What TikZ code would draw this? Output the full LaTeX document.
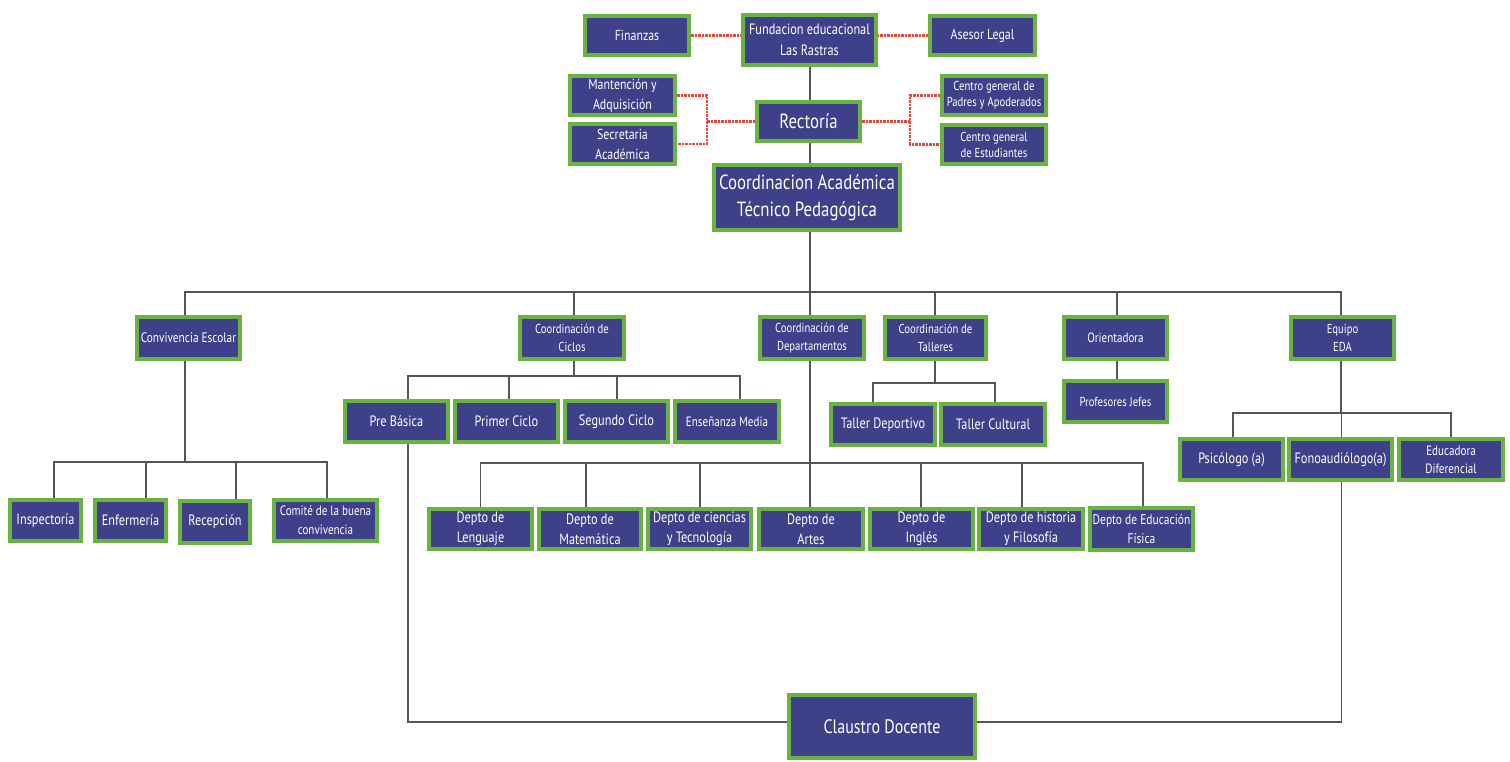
\documentclass[tikz,border=0pt]{standalone}
\usepackage{fontspec}
\newfontfamily\cf[FakeStretch=0.82]{PT Sans}
\newcommand\fsz[2]{\cf\fontsize{#1}{#2}\selectfont}
\definecolor{boxblue}{RGB}{62,64,138}
\definecolor{boxgreen}{RGB}{106,178,66}
\definecolor{linegray}{RGB}{85,85,85}
\definecolor{dashred}{RGB}{226,72,52}
\tikzset{
  orgbox/.style={draw=boxgreen, fill=boxblue, line width=3.6pt, text=white, align=center, inner sep=0pt},
  conn/.style={draw=linegray, line width=1.3pt},
  reddash/.style={draw=dashred, line width=2.5pt, dash pattern=on 2.5pt off 1pt},
}
\newcommand\obox[7]{\node[orgbox, minimum width={(#4)-(#2)-3.6}, minimum height={(#5)-(#3)-3.6}, font={#6}] (#1) at ({((#2)+(#4))/2},{((#3)+(#5))/2}) {#7};}
\begin{document}
\begin{tikzpicture}[x=1pt,y=-1pt]
\useasboundingbox (0,0) rectangle (1510,762);
% top level
\obox{fin}{583}{14}{691}{57}{\fsz{14.5}{18}}{Finanzas}
\obox{fund}{741}{13}{878}{67}{\fsz{15}{21}}{Fundacion educacional\\Las Rastras}
\obox{ase}{928}{14}{1037}{57}{\fsz{14.5}{18}}{Asesor Legal}
\obox{mant}{568}{74}{677}{117}{\fsz{14.5}{20}}{Mantención y\\Adquisición}
\obox{sec}{568}{122}{677}{166}{\fsz{14.5}{20}}{Secretaria\\Académica}
\obox{rect}{755}{100}{862}{143}{\fsz{20.5}{24}}{Rectoría}
\obox{cpad}{940}{74}{1048}{117}{\fsz{13}{16}}{Centro general de\\Padres y Apoderados}
\obox{cest}{940}{123}{1048}{166}{\fsz{13}{16}}{Centro general\\de Estudiantes}
\obox{coord}{712}{163}{902}{232}{\fsz{20.5}{27}}{Coordinacion Académica\\Técnico Pedagógica}
% second level
\obox{conv}{135}{315}{242}{361}{\fsz{13.8}{18}}{Convivencia Escolar}
\obox{cic}{518}{315}{626}{361}{\fsz{13}{18}}{Coordinación de\\Ciclos}
\obox{dep}{758}{315}{866}{361}{\fsz{13}{18}}{Coordinación de\\Departamentos}
\obox{tal}{883}{315}{988}{361}{\fsz{13}{18}}{Coordinación de\\Talleres}
\obox{ori}{1062}{315}{1169}{361}{\fsz{13.5}{18}}{Orientadora}
\obox{eda}{1289}{315}{1396}{361}{\fsz{13}{18}}{Equipo\\EDA}
% ciclos
\obox{pre}{343}{399}{450}{444}{\fsz{15}{18}}{Pre Básica}
\obox{prim}{453}{399}{560}{444}{\fsz{15}{18}}{Primer Ciclo}
\obox{seg}{563}{399}{670}{444}{\fsz{15}{18}}{Segundo Ciclo}
\obox{ens}{673}{399}{781}{444}{\fsz{13.5}{16}}{Enseñanza Media}
% talleres
\obox{tdep}{829}{402}{937}{447}{\fsz{15}{18}}{Taller Deportivo}
\obox{tcul}{939}{402}{1047}{447}{\fsz{15}{18}}{Taller Cultural}
\obox{prof}{1062}{379}{1169}{424}{\fsz{13}{16}}{Profesores Jefes}
% EDA
\obox{psi}{1178}{437}{1285}{482}{\fsz{15}{18}}{Psicólogo (a)}
\obox{fono}{1287}{437}{1394}{482}{\fsz{15}{18}}{Fonoaudiólogo(a)}
\obox{educ}{1397}{437}{1505}{482}{\fsz{13.5}{18}}{Educadora\\Diferencial}
% departamentos
\obox{len}{427}{507}{534}{551}{\fsz{15}{20}}{Depto de\\Lenguaje}
\obox{mat}{537}{507}{643}{551}{\fsz{15}{20}}{Depto de\\Matemática}
\obox{cie}{646}{507}{753}{551}{\fsz{15}{20}}{Depto de ciencias\\y Tecnología}
\obox{art}{757}{507}{865}{551}{\fsz{15}{20}}{Depto de\\Artes}
\obox{ing}{868}{507}{975}{551}{\fsz{15}{20}}{Depto de\\Inglés}
\obox{his}{977}{507}{1085}{551}{\fsz{15}{20}}{Depto de historia\\y Filosofía}
\obox{edf}{1088}{506}{1195}{552}{\fsz{14}{19}}{Depto de Educación\\Física}
% convivencia children
\obox{insp}{8}{498}{83}{543}{\fsz{15}{18}}{Inspectoría}
\obox{enf}{93}{498}{168}{543}{\fsz{15}{18}}{Enfermería}
\obox{rec}{178}{499}{252}{545}{\fsz{15}{18}}{Recepción}
\obox{com}{272}{498}{379}{543}{\fsz{13.5}{19}}{Comité de la buena\\convivencia}
% claustro
\obox{cla}{787}{693}{977}{760}{\fsz{19.5}{22}}{Claustro Docente}
% bus coordinates
\coordinate (busA) at (810,292);
\coordinate (busC) at (574,376);
\coordinate (busT) at (935,383);
\coordinate (busO) at (1117,375);
\coordinate (busE) at (1341,413);
\coordinate (busD) at (810,463);
\coordinate (busV) at (185,462);
\coordinate (busK) at (810,722);
\coordinate (jL) at (707,121.5);
\coordinate (jR) at (910,121.5);
% attachment points
\coordinate (inspT) at ([xshift=8.5pt]insp.north);
\coordinate (enfT) at ([xshift=15.5pt]enf.north);
\coordinate (recT) at ([xshift=21pt]rec.north);
\coordinate (comT) at ([xshift=1.5pt]com.north);
\coordinate (preT) at ([xshift=11.5pt]pre.north);
\coordinate (preB) at ([xshift=11.5pt]pre.south);
\coordinate (primT) at ([xshift=2.5pt]prim.north);
\coordinate (segT) at ([xshift=0.5pt]seg.north);
\coordinate (ensT) at ([xshift=13pt]ens.north);
\coordinate (tdepT) at ([xshift=-10pt]tdep.north);
\coordinate (tculT) at ([xshift=2pt]tcul.north);
\coordinate (psiT) at ([xshift=1.5pt]psi.north);
\coordinate (fonoT) at ([xshift=1pt]fono.north);
\coordinate (fonoB) at ([xshift=1pt]fono.south);
\coordinate (educT) at (educ.north);
\coordinate (lenT) at (len.north);
\coordinate (matT) at ([xshift=-4pt]mat.north);
\coordinate (cieT) at ([xshift=0.5pt]cie.north);
\coordinate (ingT) at ([xshift=-0.5pt]ing.north);
\coordinate (hisT) at ([xshift=-9pt]his.north);
\coordinate (edfT) at ([xshift=1.5pt]edf.north);
% red dashed links
\draw[reddash] (fin.east) -- (fin.east -| fund.west);
\draw[reddash] (ase.west) -- (ase.west -| fund.east);
\draw[reddash] (mant.east) -| (jL) |- (sec.east);
\draw[reddash] (rect.west) -- (jL);
\draw[reddash] (rect.east) -- (jR);
\draw[reddash] (cpad.west) -| (jR) |- (cest.west);
% main spine
\draw[conn] (fund.south -| busA) -- (rect.north -| busA);
\draw[conn] (rect.south -| busA) -- (coord.north -| busA);
\draw[conn] (coord.south -| busA) -- (busA);
\draw[conn] (conv.north -| busV) -- (busV |- busA) -- (busE |- busA) -- (eda.north -| busE);
\draw[conn] (cic.north -| busC) -- (busC |- busA);
\draw[conn] (busA) -- (dep.north -| busA);
\draw[conn] (tal.north -| busT) -- (busT |- busA);
\draw[conn] (ori.north -| busO) -- (busO |- busA);
% ciclos
\draw[conn] (cic.south -| busC) -- (busC);
\draw[conn] (preT) -- (preT |- busC) -- (ensT |- busC) -- (ensT);
\draw[conn] (primT) -- (primT |- busC);
\draw[conn] (segT) -- (segT |- busC);
% talleres
\draw[conn] (tal.south -| busT) -- (busT);
\draw[conn] (tdepT) -- (tdepT |- busT) -- (tculT |- busT) -- (tculT);
\draw[conn] (ori.south -| busO) -- (prof.north -| busO);
% EDA
\draw[conn] (eda.south -| busE) -- (busE);
\draw[conn] (psiT) -- (psiT |- busE) -- (educT |- busE) -- (educT);
\draw[conn] (fonoT) -- (fonoT |- busE);
% departamentos
\draw[conn] (dep.south -| busD) -- (art.north -| busD);
\draw[conn] (lenT) -- (lenT |- busD) -- (edfT |- busD) -- (edfT);
\draw[conn] (matT) -- (matT |- busD);
\draw[conn] (cieT) -- (cieT |- busD);
\draw[conn] (ingT) -- (ingT |- busD);
\draw[conn] (hisT) -- (hisT |- busD);
% convivencia
\draw[conn] (conv.south -| busV) -- (busV);
\draw[conn] (inspT) -- (inspT |- busV) -- (comT |- busV) -- (comT);
\draw[conn] (enfT) -- (enfT |- busV);
\draw[conn] (recT) -- (recT |- busV);
% claustro
\draw[conn] (preB) -- (preB |- busK) -- (cla.west |- busK);
\draw[conn] (fonoB) -- (fonoB |- busK) -- (cla.east |- busK);
\end{tikzpicture}
\end{document}
